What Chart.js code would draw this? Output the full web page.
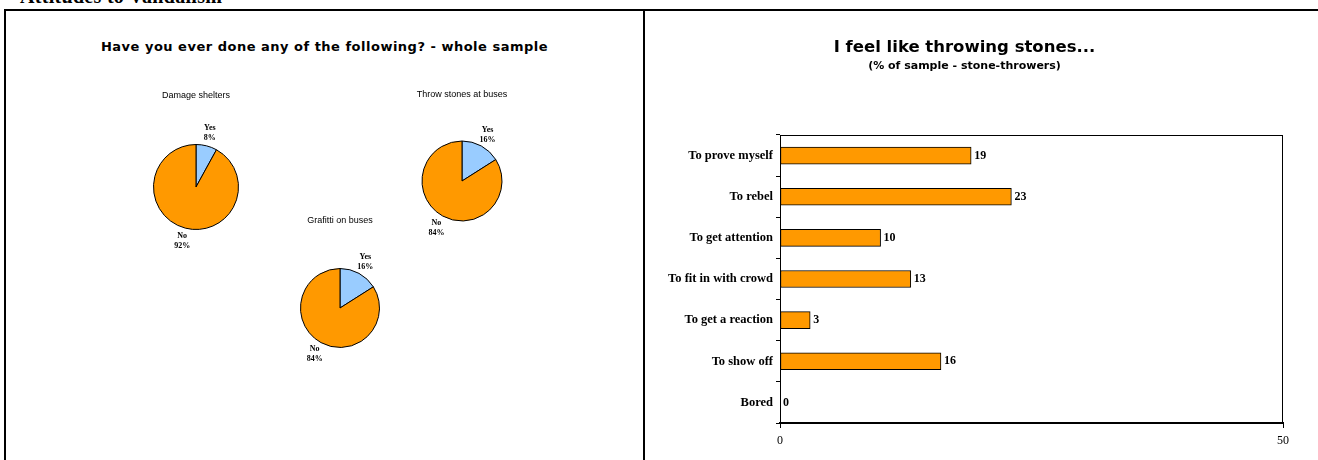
<!DOCTYPE html>
<html>
<head>
<meta charset="utf-8">
<title>Attitudes to Vandalism</title>
<script src="https://cdn.jsdelivr.net/npm/chart.js@4.4.1/dist/chart.umd.min.js"></script>
<style>
body { margin: 0; width: 1318px; height: 460px; overflow: hidden; background: #fff; position: relative; }
#heading { position: absolute; left: 20px; top: -14px; font: bold 20px "Liberation Serif"; line-height: 20px; white-space: nowrap; letter-spacing: 0.3px; }
#leftTitle { position: absolute; left: 6px; width: 637px; top: 39px; text-align: center; font: bold 13px "DejaVu Sans"; line-height: 16px; letter-spacing: 0.5px; }
.line { position: absolute; background: #000; }
canvas { position: absolute; }
</style>
</head>
<body>
<div id="heading">Attitudes to Vandalism</div>
<div class="line" style="left:4px;top:9px;width:1314px;height:2px"></div>
<div class="line" style="left:4px;top:9px;width:2px;height:451px"></div>
<div class="line" style="left:643px;top:9px;width:2px;height:451px"></div>
<div id="leftTitle">Have you ever done any of the following? - whole sample</div>
<canvas id="pie1" width="200" height="200" style="left:96px;top:87px"></canvas>
<canvas id="pie2" width="200" height="200" style="left:362px;top:81px"></canvas>
<canvas id="pie3" width="200" height="200" style="left:240px;top:208px"></canvas>
<canvas id="bar" width="666" height="448" style="left:646px;top:12px"></canvas>
<script>
// pies: share of sample, Yes / No
const pieLabels = ['Yes', 'No'];
const damageShelters = [8, 92];
const throwStones = [16, 84];
const grafitti = [16, 84];

// bar chart: reasons given by stone-throwers (%)
const reasons = ['To prove myself', 'To rebel', 'To get attention', 'To fit in with crowd', 'To get a reaction', 'To show off', 'Bored'];
const reasonValues = [19, 23, 10, 13, 3, 16, 0];
const xTicks = [0, 50];

const pieLabelPlugin = {
    id: 'pieLabels',
    afterDatasetsDraw(chart) {
        const ctx = chart.ctx;
        const meta = chart.getDatasetMeta(0);
        const values = chart.data.datasets[0].data;
        ctx.save();
        ctx.font = 'bold 8px "Liberation Serif"';
        ctx.fillStyle = '#000';
        ctx.textAlign = 'center';
        ctx.textBaseline = 'middle';
        meta.data.forEach((arc, i) => {
            const p = arc.getProps(['x', 'y', 'startAngle', 'endAngle', 'outerRadius']);
            const mid = (p.startAngle + p.endAngle) / 2;
            const d = p.outerRadius + 13;
            const x = p.x + Math.cos(mid) * d;
            const y = p.y + Math.sin(mid) * d;
            ctx.fillText(chart.data.labels[i], x, y - 5);
            ctx.fillText(values[i] + '%', x, y + 5);
        });
        ctx.restore();
    }
};

function makePie(id, title, values, radius, titlePad) {
    return new Chart(document.getElementById(id), {
        type: 'pie',
        data: {
            labels: pieLabels,
            datasets: [{
                data: values,
                backgroundColor: ['#99CCFF', '#FF9900'],
                borderColor: '#000',
                borderWidth: 1
            }]
        },
        options: {
            responsive: false,
            animation: false,
            radius: radius,
            layout: { padding: { bottom: 50 } },
            plugins: {
                legend: { display: false },
                tooltip: { enabled: false },
                title: {
                    display: true,
                    text: title,
                    color: '#000',
                    font: { family: 'Liberation Sans', size: 9, weight: 'normal' },
                    padding: { top: titlePad, bottom: 50 - titlePad - 10.8 }
                }
            }
        },
        plugins: [pieLabelPlugin]
    });
}

makePie('pie1', 'Damage shelters', damageShelters, 42.5, 3.6);
makePie('pie2', 'Throw stones at buses', throwStones, 40, 8.6);
makePie('pie3', 'Grafitti on buses', grafitti, 39.5, 7.6);

const valueLabelPlugin = {
    id: 'valueLabels',
    afterDatasetsDraw(chart) {
        const ctx = chart.ctx;
        const meta = chart.getDatasetMeta(0);
        ctx.save();
        ctx.font = 'bold 12px "Liberation Serif"';
        ctx.fillStyle = '#000';
        ctx.textBaseline = 'middle';
        ctx.textAlign = 'left';
        meta.data.forEach((bar, i) => {
            ctx.fillText(String(reasonValues[i]), bar.x + 3, bar.y);
        });
        ctx.restore();
    }
};

const plotBox = {
    id: 'plotBox',
    afterDraw(chart) {
        const { left, top, right, bottom } = chart.chartArea;
        const ctx = chart.ctx;
        ctx.save();
        ctx.strokeStyle = '#000';
        ctx.lineWidth = 1;
        ctx.strokeRect(left + 0.5, top + 0.5, right - left - 1, bottom - top);
        ctx.restore();
    }
};

new Chart(document.getElementById('bar'), {
    type: 'bar',
    data: {
        labels: reasons,
        datasets: [{
            data: reasonValues,
            backgroundColor: '#FF9900',
            borderColor: '#000',
            borderWidth: 1,
            borderSkipped: false,
            barThickness: 17
        }]
    },
    options: {
        indexAxis: 'y',
        responsive: false,
        animation: false,
        layout: { padding: { left: 0, right: 29, top: 0, bottom: 0 } },
        scales: {
            x: {
                min: 0,
                max: 50,
                afterBuildTicks(scale) {
                    scale.ticks = xTicks.map(v => ({ value: v }));
                },
                afterFit(scale) {
                    scale.height = 37;
                },
                grid: { drawOnChartArea: false, drawTicks: true, tickLength: 5, color: '#000' },
                border: { display: true, color: '#000', width: 2 },
                ticks: { color: '#000', font: { family: 'Liberation Serif', size: 12 }, padding: 6, maxRotation: 0 }
            },
            y: {
                afterFit(scale) {
                    scale.width = 134;
                },
                grid: { offset: true, drawOnChartArea: false, tickLength: 4, color: '#000' },
                border: { display: true, color: '#000', width: 1 },
                ticks: { color: '#000', font: { family: 'Liberation Serif', size: 12.5, weight: 'bold' }, padding: 3 }
            }
        },
        plugins: {
            legend: { display: false },
            tooltip: { enabled: false },
            title: {
                display: true,
                text: 'I feel like throwing stones...',
                color: '#000',
                font: { family: 'DejaVu Sans', size: 16.5, weight: 'bold' },
                padding: { top: 26, bottom: 0 }
            },
            subtitle: {
                display: true,
                text: '(% of sample - stone-throwers)',
                color: '#000',
                font: { family: 'DejaVu Sans', size: 11, weight: 'bold' },
                padding: { top: 2, bottom: 62 }
            }
        }
    },
    plugins: [valueLabelPlugin, plotBox]
});
</script>
</body>
</html>
